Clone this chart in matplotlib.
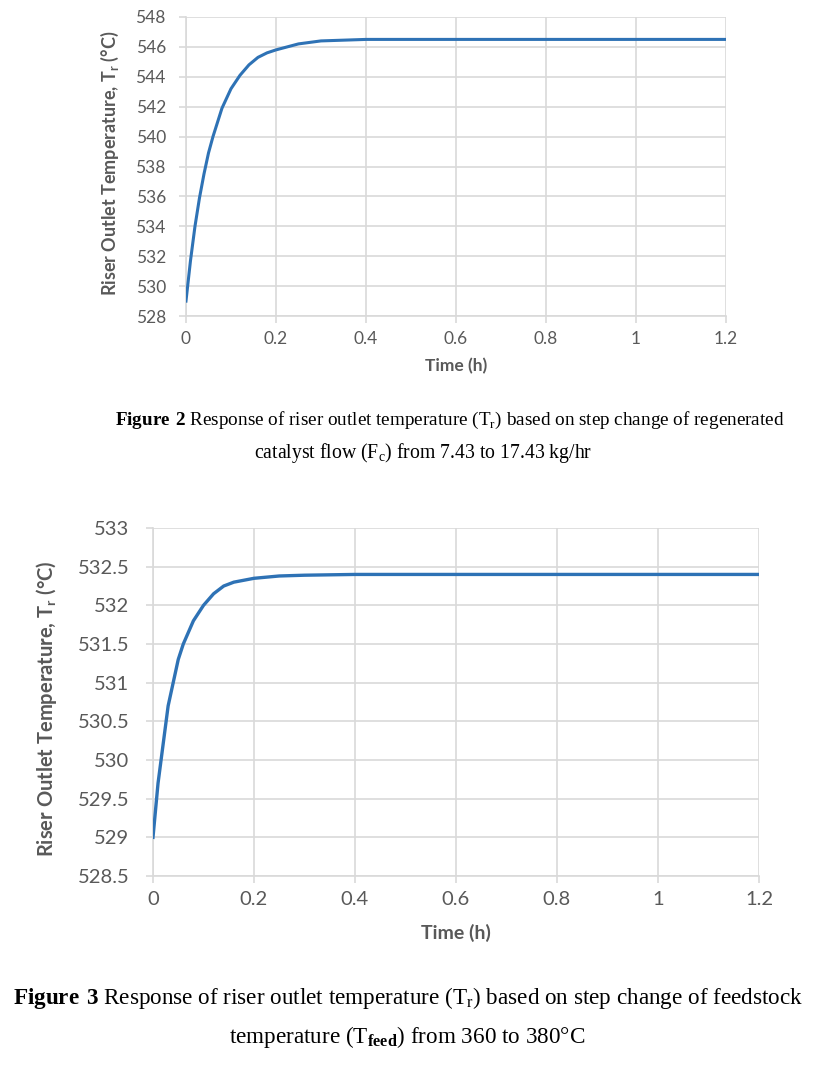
from matplotlib import pyplot as pl

pl.rcParams['font.family'] = ['Lato', 'DejaVu Sans']
pl.rcParams['mathtext.fontset'] = 'custom'
pl.rcParams['mathtext.rm'] = 'Liberation Serif'
pl.rcParams['mathtext.bf'] = 'Liberation Serif:bold'

# Figure 2: step change of regenerated catalyst flow
time_a = [0, 0.01, 0.02, 0.03, 0.04, 0.05, 0.06, 0.08, 0.10, 0.12, 0.14,
          0.16, 0.18, 0.20, 0.25, 0.30, 0.35, 0.40, 0.6, 0.8, 1.0, 1.2]
temp_a = [529.0, 531.7, 534.0, 535.9, 537.5, 538.9, 540.0, 541.9, 543.2,
          544.1, 544.8, 545.3, 545.6, 545.8, 546.2, 546.4, 546.45, 546.5,
          546.5, 546.5, 546.5, 546.5]

# Figure 3: step change of feedstock temperature
time_b = [0, 0.01, 0.02, 0.03, 0.04, 0.05, 0.06, 0.08, 0.10, 0.12, 0.14,
          0.16, 0.20, 0.25, 0.30, 0.40, 0.6, 0.8, 1.0, 1.2]
temp_b = [529.0, 529.7, 530.2, 530.7, 531.0, 531.3, 531.5, 531.8, 532.0,
          532.15, 532.25, 532.3, 532.35, 532.38, 532.39, 532.4, 532.4,
          532.4, 532.4, 532.4]

xticks = [0, 0.2, 0.4, 0.6, 0.8, 1, 1.2]
xticklabels = ['0', '0.2', '0.4', '0.6', '0.8', '1', '1.2']
yticks_a = [528, 530, 532, 534, 536, 538, 540, 542, 544, 546, 548]
yticks_b = [528.5, 529, 529.5, 530, 530.5, 531, 531.5, 532, 532.5, 533]

line_col = '#2E72B5'
grid_col = '#D9D9D9'
text_col = '#595959'

fig = pl.figure(figsize=(8.31, 10.75), dpi=100)

ax1 = fig.add_axes([0.2238, 0.706, 0.6498, 0.2782])
ax2 = fig.add_axes([0.1841, 0.1851, 0.7292, 0.3237])

# ax, x, y, yticks, tick size, label size, line width, ypad, xlabelpad,
# ylabel x, ylabel y
setups = [
    (ax1, time_a, temp_a, yticks_a, 12.5, 12.5, 2.2, 9.5, 8, -0.12, 0.51),
    (ax2, time_b, temp_b, yticks_b, 14.5, 14, 2.4, 12, 11.5, -0.155, 0.48),
]

for ax, t, T, yt, fs, lfs, lw, ypad, xlp, lx, ly in setups:
    ax.plot(t, T, color=line_col, linewidth=lw, zorder=3)
    ax.set_xlim(0, 1.2)
    ax.set_ylim(yt[0], yt[-1])
    ax.set_xticks(xticks)
    ax.set_xticklabels(xticklabels)
    ax.set_yticks(yt)
    ax.set_yticklabels(['%g' % v for v in yt])
    ax.grid(color=grid_col, linewidth=1.2)
    ax.set_axisbelow(True)
    for s in ['top', 'right']:
        ax.spines[s].set_visible(False)
    for s in ['left', 'bottom']:
        ax.spines[s].set_color(grid_col)
        ax.spines[s].set_linewidth(1.2)
    ax.tick_params(colors=grid_col, labelcolor=text_col, labelsize=fs,
                   length=5, width=1.2)
    ax.tick_params(axis='x', pad=6)
    ax.tick_params(axis='y', pad=ypad)
    ax.set_xlabel('Time (h)', fontsize=lfs, fontweight='bold', color=text_col,
                  labelpad=xlp)
    ax.set_ylabel(r'Riser Outlet Temperature, T$_\mathregular{r}$ (°C)',
                  fontsize=lfs + 0.5, fontweight='bold', color=text_col)
    ax.yaxis.set_label_coords(lx, ly)

cap_fs = 13.8
fig.text(0.5415, 1 - 420/1075,
         r'$\mathbf{Figure\ 2}$ Response of riser outlet temperature '
         r'(T$_\mathrm{r}$) based on step change of regenerated',
         family='Liberation Serif', fontsize=cap_fs, ha='center', va='center')
fig.text(0.509, 1 - 453/1075,
         r'catalyst flow (F$_\mathrm{c}$) from 7.43 to 17.43 kg/hr',
         family='Liberation Serif', fontsize=cap_fs + 0.4, ha='center',
         va='center')

cap_fs2 = 16.7
fig.text(0.491, 1 - 998/1075,
         r'$\mathbf{Figure\ 3}$ Response of riser outlet temperature '
         r'(T$_\mathrm{r}$) based on step change of feedstock',
         family='Liberation Serif', fontsize=cap_fs2, ha='center', va='center')
fig.text(0.490, 1 - 1037/1075,
         r'temperature (T$_\mathbf{feed}$) from 360 to 380°C',
         family='Liberation Serif', fontsize=cap_fs2, ha='center', va='center')

fig.savefig('out.png')
